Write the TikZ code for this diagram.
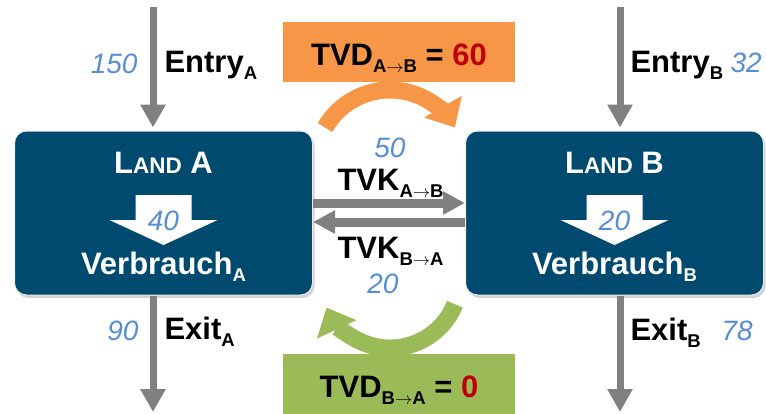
\documentclass[tikz,border=0pt]{standalone}
\usepackage{fontspec}
\setmainfont{Liberation Sans}
\usetikzlibrary{arrows.meta,calc,shadows}
\definecolor{land}{HTML}{004A6F}
\definecolor{flow}{HTML}{808080}
\definecolor{amount}{HTML}{558ED5}
\definecolor{tvdab}{HTML}{F79646}
\definecolor{tvdba}{HTML}{9BBB59}
\definecolor{result}{HTML}{C00000}
% lowered index and "from -> to" index
\newcommand\idx[1]{\raisebox{-7pt}{\fontsize{18.5}{18.5}\selectfont #1}}
\newcommand\pair[2]{\idx{#1$\rightarrow$#2}}

\begin{document}
\begin{tikzpicture}[x=1pt,y=-1pt,
  txt/.style={font=\fontsize{31}{31}\selectfont\bfseries},
  num/.style={font=\fontsize{28}{28}\selectfont\itshape,text=amount},
  landbox/.style={draw=white!85!gray,line width=1pt,fill=land,rounded corners=12pt,
    minimum width=298pt,minimum height=164pt,
    drop shadow={shadow xshift=2pt,shadow yshift=-3pt,opacity=0.35}},
  flowarrow/.style={flow,line width=7pt,-{Triangle[width=24pt,length=23pt]}},
  tvk/.style={flow,line width=9pt,-{Triangle[width=22pt,length=22pt]}},
  swing/.style={line width=17pt,-{Triangle[width=42pt,length=24pt]}},
  tvdbox/.style={txt,minimum width=232pt,minimum height=60pt,inner sep=0pt,
    text height=26pt,text depth=0pt}]
  \useasboundingbox (0,0) rectangle (766,413);

  % Land A and Land B
  \node[landbox] (landA) at (163.5,213) {};
  \node[landbox] (landB) at (614.5,213) {};
  \foreach \l/\v in {A/40,B/20} {
    % white consumption arrow
    \fill[white] ($(land\l.center)+(-28,-18)$) -- ++(56,0) -- ++(0,25) -- ++(26,0)
      -- ($(land\l.center)+(0,32)$) -- ($(land\l.center)+(-54,7)$) -- ++(26,0) -- cycle;
    \node[txt,text=white,anchor=base] (name\l) at ($(land\l.center)+(0,-40)$)
      {L{\fontsize{22.5}{22.5}\selectfont AND} \l};
    \node[num,anchor=base] (use\l) at ($(land\l.center)+(0,17)$) {\v};
    \node[txt,text=white,anchor=base] (cons\l) at ($(land\l.center)+(0,61)$)
      {Verbrauch\idx{\l}};
  }

  % Entry and exit
  \coordinate (inA) at (153,7);
  \coordinate (inB) at (620,7);
  \coordinate (outA) at (153,412);
  \coordinate (outB) at (620,412);
  \draw[flowarrow,shorten >=3pt] (inA) -- (inA |- landA.north);
  \draw[flowarrow,shorten >=3pt] (inB) -- (inB |- landB.north);
  \draw[flowarrow] (outA |- landA.south) -- (outA);
  \draw[flowarrow] (outB |- landB.south) -- (outB);
  \node[num,anchor=base east] (inAv) at (141,73) {150};
  \node[txt,anchor=base west] (entryA) at (161,72) {Entry\idx{A}};
  \node[txt,anchor=base west] (entryB) at (627,72) {Entry\idx{B}};
  \node[num,anchor=base west] (inBv) at (727,72) {32};
  \node[num,anchor=base east] (outAv) at (142,340) {90};
  \node[txt,anchor=base west] (exitA) at (161,339) {Exit\idx{A}};
  \node[txt,anchor=base west] (exitB) at (627,340) {Exit\idx{B}};
  \node[num,anchor=base west] (outBv) at (718,340) {78};

  % TVK between the lands
  \draw[tvk] ([yshift=10pt]landA.east) -- ([yshift=10pt]landB.west);
  \draw[tvk] ([yshift=-9pt]landB.west) -- ([yshift=-9pt]landA.east);
  \node[num,anchor=base] (tvkABv) at (390,157) {50};
  \node[txt,anchor=base west] (tvkAB) at (334,190) {TVK\pair{A}{B}};
  \node[txt,anchor=base west] (tvkBA) at (334,258) {TVK\pair{B}{A}};
  \node[num,anchor=base] (tvkBAv) at (383,293) {20};

  % TVD swings
  \coordinate (swingAB) at (390,165);
  \coordinate (swingBA) at (390,278);
  \draw[swing,tvdab] (swingAB) ++(-150:75) arc[start angle=-150,end angle=-30,radius=75];
  \draw[swing,tvdba] (swingBA) ++(22:70) arc[start angle=22,end angle=155,radius=70];
  \node[tvdbox,fill=tvdab] (tvdAB) at (399,52) {TVD\pair{A}{B} = \textcolor{result}{60}};
  \node[tvdbox,fill=tvdba] (tvdBA) at (399,384) {TVD\pair{B}{A} = \textcolor{result}{0}};
\end{tikzpicture}
\end{document}
